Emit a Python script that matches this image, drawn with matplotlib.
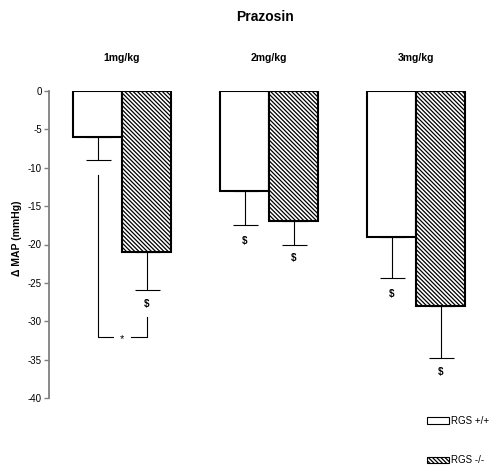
import matplotlib
matplotlib.use("Agg")
import matplotlib.pyplot as plt
from matplotlib.patches import Patch
import numpy as np

plt.rcParams['font.family'] = ['Liberation Sans', 'DejaVu Sans']
plt.rcParams['hatch.linewidth'] = 0.9

# data
groups = ['1mg/kg', '2mg/kg', '3mg/kg']
wt_mean = [-6, -13, -19]
wt_err = [3.0, 4.5, 5.4]
ko_mean = [-21, -17, -28]
ko_err = [4.9, 3.0, 6.8]
wt_sig = ['', '$', '$']
ko_sig = ['$', '$', '$']
yticks = [0, -5, -10, -15, -20, -25, -30, -35, -40]

# star bracket between the 1mg/kg bars
star_y = -32
star_left_top = -11
star_right_top = -29.4

HATCH = '\\' * 8

W, H = 499, 468
fig = plt.figure(figsize=(W / 100, H / 100), dpi=100)
ax = fig.add_axes([49 / W, 1 - 398 / H, (480 - 49) / W, (398 - 91) / H])

x0 = np.arange(len(groups)) * 3
xw = x0 + 0.5
xk = x0 + 1.5

ax.bar(xw, wt_mean, width=1.0, color='white', edgecolor='black', linewidth=1.5, zorder=3)
ax.bar(xk, ko_mean, width=1.0, color='white', edgecolor='black', linewidth=1.5,
       hatch=HATCH, zorder=3)

zeros = [0] * len(groups)
ax.errorbar(xw, wt_mean, yerr=[wt_err, zeros], fmt='none', ecolor='black',
            elinewidth=0.8, capsize=9, capthick=0.8, zorder=2)
ax.errorbar(xk, ko_mean, yerr=[ko_err, zeros], fmt='none', ecolor='black',
            elinewidth=0.8, capsize=9, capthick=0.8, zorder=2)

for i in range(len(groups)):
    if wt_sig[i]:
        ax.text(xw[i], wt_mean[i] - wt_err[i] - 2.0, wt_sig[i], ha='center', va='center',
                fontsize=7, fontweight='bold')
    if ko_sig[i]:
        ax.text(xk[i], ko_mean[i] - ko_err[i] - 1.8, ko_sig[i], ha='center', va='center',
                fontsize=7, fontweight='bold')
    ax.text(x0[i] + 1, 1.107, groups[i], transform=ax.get_xaxis_transform(),
            ha='center', va='center', fontsize=7.5, fontweight='bold')

# bracket with star
ax.plot([xw[0], xw[0], xw[0] + 0.32], [star_left_top, star_y, star_y], color='black', lw=0.8)
ax.plot([xk[0] - 0.31, xk[0], xk[0]], [star_y, star_y, star_right_top], color='black', lw=0.8)
ax.text((xw[0] + xk[0]) / 2, star_y - 0.3, '*', ha='center', va='center', fontsize=8)

ax.set_ylim(-40, 0)
ax.set_xlim(-0.49, (480 - 73) / 49)
ax.set_yticks(yticks)
ax.set_yticklabels([str(t) for t in yticks])
ax.tick_params(axis='y', length=3.5, width=1, color='#808080', labelsize=7, pad=1.5)
for s in ['top', 'right', 'bottom']:
    ax.spines[s].set_visible(False)
ax.spines['left'].set_color('#808080')
ax.spines['left'].set_linewidth(1.3)
ax.set_xticks([])

fig.text(265 / W, 1 - 17 / H, 'Prazosin', ha='center', va='center', fontsize=10, fontweight='bold')
fig.text(17 / W, 1 - 238 / H, 'Δ MAP (mmHg)', ha='center', va='center', rotation=90,
         fontsize=7.5, fontweight='bold')

handles = [Patch(facecolor='white', edgecolor='black', linewidth=0.8),
           Patch(facecolor='white', edgecolor='black', linewidth=0.8, hatch=HATCH)]
fig.legend(handles, ['RGS +/+', 'RGS -/-'], loc='upper left',
           bbox_to_anchor=(427 / W, 1 - 416 / H), frameon=False, fontsize=7,
           handlelength=2.3, handleheight=0.6, handletextpad=0.15,
           labelspacing=3.0, borderpad=0, borderaxespad=0)

fig.savefig('out.png', dpi=100)
